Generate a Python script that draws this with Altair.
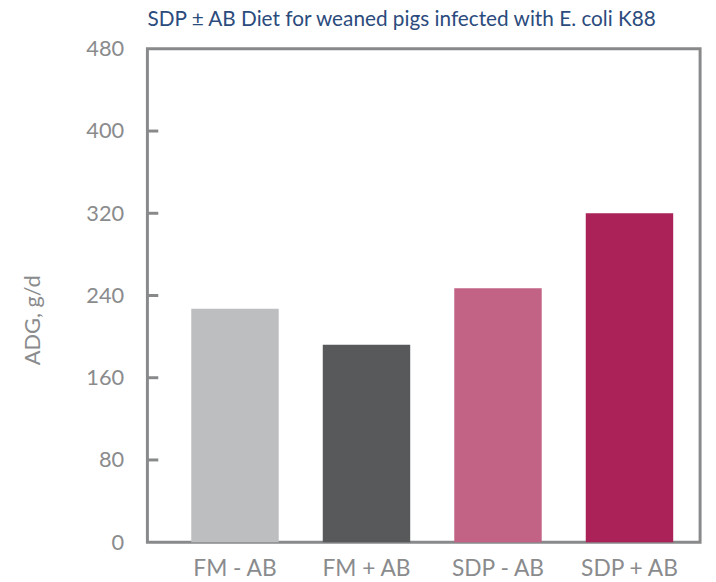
import altair as alt
import pandas as pd

categories = ["FM - AB", "FM + AB", "SDP - AB", "SDP + AB"]
adg = [227, 192, 247, 320]
colors = ["#bdbec0", "#58595b", "#c26284", "#aa2257"]
y_tick_values = [0, 80, 160, 240, 320, 400, 480]
inner_tick_values = [80, 160, 240, 320, 400]

GRAY = "#88898b"
LABEL = "#8a8b8d"

df = pd.DataFrame({"diet": categories, "adg": adg})
ticks_df = pd.DataFrame({"v": inner_tick_values})

yscale = alt.Scale(domain=[0, 480], nice=False, zero=True)
yaxis = alt.Axis(
    values=y_tick_values, title="ADG, g/d", domain=False, ticks=False, grid=False,
    labelFont="Lato", labelFontSize=22, labelColor=LABEL, labelPadding=24,
    titleFont="Lato", titleFontSize=22, titleColor=LABEL, titleFontWeight="normal",
    titleAngle=270, titleX=-116, titleY=274, titleAlign="center", titleBaseline="middle",
)

bars = alt.Chart(df).mark_bar().encode(
    x=alt.X(
        "diet:N",
        sort=categories,
        scale=alt.Scale(paddingInner=0.335, paddingOuter=0.269, align=0.62),
        axis=alt.Axis(
            title=None, labelAngle=0, domain=False, ticks=False,
            labelFont="Lato", labelFontSize=23, labelColor=LABEL, labelPadding=16,
        ),
    ),
    y=alt.Y("adg:Q", scale=yscale, axis=yaxis, title="ADG, g/d"),
    color=alt.Color("diet:N", scale=alt.Scale(domain=categories, range=colors), legend=None),
)

inner_ticks = alt.Chart(ticks_df).mark_rule(color=GRAY, strokeWidth=3).encode(
    y=alt.Y("v:Q", scale=yscale, axis=yaxis, title="ADG, g/d"),
    x=alt.value(0),
    x2=alt.value(11),
)

chart = alt.layer(bars, inner_ticks).properties(
    width=559,
    height=499,
    padding={"left": 141, "top": 38, "right": 8, "bottom": 37},
    autosize=alt.AutoSizeParams(type="none"),
    title=alt.TitleParams(
        "SDP ± AB Diet for weaned pigs infected with E. coli K88",
        anchor="start", frame="group", font="Lato", fontSize=21,
        color="#2b4b7d", fontWeight="normal", offset=8,
    ),
).configure(
    background="white",
    view=alt.ViewConfig(stroke=GRAY, strokeWidth=3),
)

chart.save("out.html", embed_options={"renderer": "svg", "actions": False})
